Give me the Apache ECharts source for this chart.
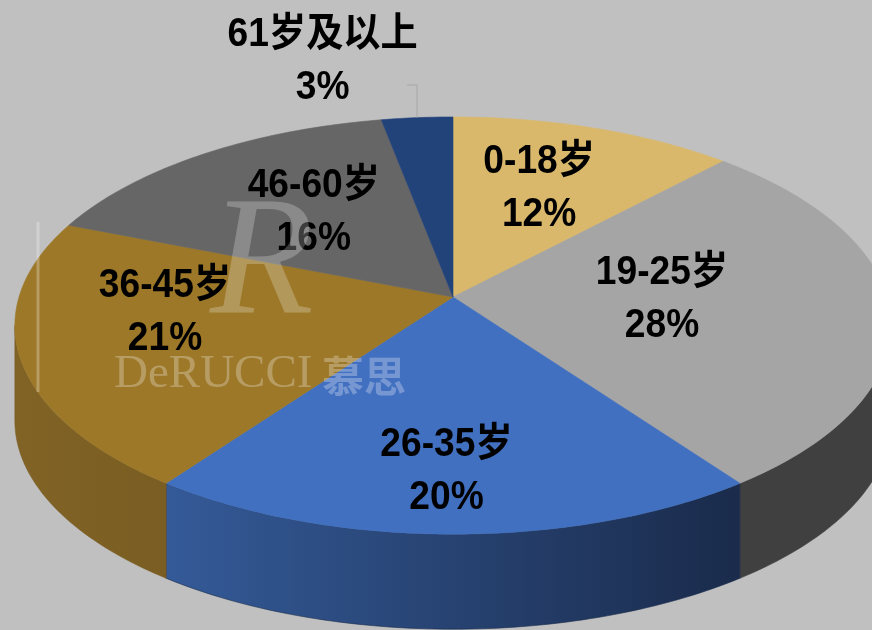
<!DOCTYPE html>
<html><head><meta charset="utf-8">
<script src="https://cdn.jsdelivr.net/npm/echarts@6/dist/echarts.min.js"></script>
<style>html,body{margin:0;padding:0;background:#c0c0c0}#c{width:872px;height:630px}</style>
</head><body><div id="c"></div>
<script>
// ---- data ----
const categories = ['0-18岁', '19-25岁', '26-35岁', '36-45岁', '46-60岁', '61岁及以上'];
const values = [12, 28, 20, 21, 16, 3];

// ---- styles ----
const topColors = ['#d9b86c', '#a5a5a5', '#4270c0', '#9c7828', '#666666', '#22427a'];
const sideColors = [['#ad9356', '#ad9356'], ['#404040', '#404040'], ['#345a98', '#1a2b4b'], ['#816326', '#7a5d22'], ['#4a4a4a', '#4a4a4a'], ['#1b3562', '#1b3562']];
const labelAngleShift = [-1, -2.4, 1, 9.9, 1.9, -9.2];
const labelRadius = [0.608, 0.481, 0.765, 0.661, 0.556, 1.415];
const labelOutside = [false, false, false, false, false, true];

const geo = { cx: 453, cy: 297, A: 434, B: 204.7, k: 0.137, H: 95 };
const visA = Math.acos(-geo.k) * 180 / Math.PI;
const visB = 360 - visA;

function proj(theta, r, dy) {
  const t = theta * Math.PI / 180;
  const u = r * Math.sin(t), v = r * Math.cos(t);
  const d = 1 + geo.k * v;
  return [geo.cx + geo.A * u / d, geo.cy - geo.B * v / d + (dy || 0)];
}

const chart = echarts.init(document.getElementById('c'), null, { renderer: 'canvas' });
const total = values.reduce((a, b) => a + b, 0);

function renderItem(params, api) {
  const i = params.dataIndex;
  const val = api.value(0);
  let start = 0;
  for (let j = 0; j < i; j++) start += values[j];
  const a0 = start / total * 360, a1 = (start + val) / total * 360;
  const children = [];
  // side wall
  const s0 = Math.max(a0, visA), s1 = Math.min(a1, visB);
  if (s1 > s0) {
    const pts = [];
    const n = Math.max(2, Math.ceil(s1 - s0));
    for (let m = 0; m <= n; m++) pts.push(proj(s0 + (s1 - s0) * m / n, 1, 0));
    for (let m = n; m >= 0; m--) pts.push(proj(s0 + (s1 - s0) * m / n, 1, geo.H));
    const grad = new echarts.graphic.LinearGradient(0, 0, 1, 0, [
      { offset: 0, color: sideColors[i][0] }, { offset: 1, color: sideColors[i][1] }]);
    children.push({ type: 'polygon', shape: { points: pts }, z2: 1,
      style: { fill: grad, stroke: sideColors[i][1], lineWidth: 0.6 } });
  }
  // top face
  const tp = [[geo.cx, geo.cy]];
  const n2 = Math.max(2, Math.ceil(a1 - a0));
  for (let m = 0; m <= n2; m++) tp.push(proj(a0 + (a1 - a0) * m / n2, 1, 0));
  children.push({ type: 'polygon', shape: { points: tp }, z2: 2,
    style: { fill: topColors[i], stroke: topColors[i], lineWidth: 0.6 } });
  // label
  const mid = (a0 + a1) / 2 + labelAngleShift[i];
  const lp = proj(mid, labelRadius[i], 0);
  children.push({ type: 'text', x: lp[0], y: lp[1], scaleX: 0.93, z2: 50,
    style: { text: categories[i] + '\n' + val + '%', align: 'center', verticalAlign: 'middle',
      fontSize: 40, fontWeight: 'bold', fontFamily: 'Liberation Sans, Arial, Noto Sans CJK SC',
      lineHeight: 53, fill: '#000' } });
  if (labelOutside[i]) {
    const e = proj((a0 + a1) / 2, 1, 0);
    const ly = lp[1] + 24;
    children.push({ type: 'polyline', z2: 50,
      shape: { points: [[e[0] - 10, ly], [e[0], ly], [e[0], e[1]]] },
      style: { stroke: '#a6a6a6', lineWidth: 1, fill: null } });
  }
  return { type: 'group', children: children };
}

const option = {
  backgroundColor: '#c0c0c0',
  animation: false,
  series: [{
    type: 'custom',
    coordinateSystem: 'none',
    renderItem: renderItem,
    data: values.map((v, i) => ({ value: v, name: categories[i] }))
  }],
  graphic: [
    { type: 'line', z: 100, shape: { x1: 38, y1: 222, x2: 38, y2: 392 },
      style: { stroke: 'rgba(255,255,255,0.28)', lineWidth: 3 } },
    { type: 'text', z: 100, x: 262, y: 268,
      style: { text: 'R', align: 'center', verticalAlign: 'middle', fontSize: 170, fontStyle: 'italic',
        fontFamily: 'Liberation Serif, DejaVu Serif', fill: 'rgba(255,255,255,0.24)' } },
    { type: 'text', z: 100, x: 114, y: 398,
      style: { text: 'DeRUCCI', align: 'left', verticalAlign: 'bottom', fontSize: 47,
        fontFamily: 'Liberation Serif, DejaVu Serif', fill: 'rgba(255,255,255,0.28)' } },
    { type: 'text', z: 100, x: 322, y: 376,
      style: { text: '慕思', align: 'left', verticalAlign: 'middle', fontSize: 42,
        fontFamily: 'Noto Sans CJK SC', fontWeight: 'bold', fill: 'rgba(255,255,255,0.28)' } }
  ]
};
chart.setOption(option);
</script>
</body></html>
